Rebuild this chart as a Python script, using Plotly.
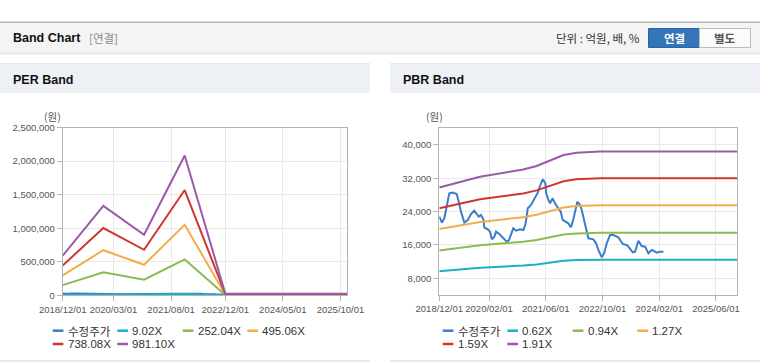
import plotly.graph_objects as go

W, H = 760, 364


def X(p):
    return p / W


def Y(p):
    return 1 - p / H


# ---------------- data ----------------
price_name = "수정주가"
price_dates = [
    "2018-12-01", "2018-12-24", "2019-01-13", "2019-02-03", "2019-02-25", "2019-03-26",
    "2019-04-29", "2019-05-17", "2019-06-05", "2019-07-04", "2019-08-02", "2019-08-30",
    "2019-09-27", "2019-10-18", "2019-11-04", "2019-11-24", "2019-12-14", "2019-12-22",
    "2020-01-20", "2020-02-09", "2020-02-26", "2020-03-17", "2020-04-01", "2020-04-29",
    "2020-05-22", "2020-06-26", "2020-07-19", "2020-08-07", "2020-08-27", "2020-09-19",
    "2020-10-24", "2020-11-21", "2020-12-08", "2020-12-20", "2020-12-29", "2021-01-26",
    "2021-02-23", "2021-03-25", "2021-04-13", "2021-05-07", "2021-05-29", "2021-06-04",
    "2021-06-24", "2021-07-08", "2021-07-31", "2021-08-20", "2021-09-17", "2021-10-08",
    "2021-10-25", "2021-11-23", "2021-12-12", "2022-01-02", "2022-01-19", "2022-02-08",
    "2022-02-28", "2022-03-23", "2022-04-06", "2022-04-26", "2022-05-19", "2022-06-02",
    "2022-07-15", "2022-08-07", "2022-08-27", "2022-09-25", "2022-10-15", "2022-11-07",
    "2022-12-05", "2023-01-03", "2023-02-14", "2023-03-24", "2023-05-03", "2023-06-18",
    "2023-07-08", "2023-08-05", "2023-09-03", "2023-10-02", "2023-10-30", "2023-11-28",
    "2023-12-12", "2024-01-10", "2024-02-07", "2024-03-07",
]
price_values = [
    22800, 21360, 22400, 25200, 28400, 28560,
    28240, 26400, 24000, 21360, 22000, 23440,
    24240, 23440, 22800, 23200, 22160, 20240,
    19760, 19200, 17360, 18000, 19200, 18640,
    18000, 16960, 17040, 18400, 20000, 19440,
    19760, 19600, 20800, 22960, 24800, 25600,
    26960, 28560, 30160, 31760, 30800, 28600,
    26800, 26000, 27200, 26000, 24800, 24000,
    22000, 21600, 21200, 20240, 21600, 24000,
    26400, 25600, 24400, 22000, 19600, 17600,
    17360, 16400, 14800, 13050, 14000, 16400,
    18400, 18400, 17850, 16240, 15900, 14240,
    14400, 17040, 15760, 15600, 14000, 14800,
    14640, 14160, 14400, 14400,
]

# PER band
per_names = ["9.02X", "252.04X", "495.06X", "738.08X", "981.10X"]
per_dates = ["2018-12-01", "2019-12-01", "2020-12-01", "2021-12-01", "2022-12-01", "2025-12-01"]
per_902 = [5400, 12200, 8300, 19200, 230, 230]
per_25204 = [152000, 342000, 232000, 535000, 6300, 6300]
per_49506 = [298000, 672000, 455000, 1051000, 12400, 12400]
per_73808 = [444000, 1002000, 678000, 1568000, 18500, 18500]
per_98110 = [591000, 1332000, 902000, 2084000, 24500, 24500]

# PBR band
pbr_names = ["0.62X", "0.94X", "1.27X", "1.59X", "1.91X"]
pbr_dates = ["2018-12-01", "2019-11-15", "2020-11-20", "2021-03-15", "2021-11-01",
             "2022-02-20", "2022-09-10", "2025-12-01"]
pbr_062 = [9672, 10515, 11067, 11346, 12202, 12381, 12474, 12474]
pbr_094 = [14664, 15942, 16779, 17202, 18499, 18772, 18913, 18913]
pbr_127 = [19812, 21539, 22670, 23241, 24994, 25362, 25552, 25552]
pbr_159 = [24804, 26966, 28382, 29097, 31291, 31752, 31991, 31991]
pbr_191 = [29796, 32394, 34094, 34953, 37589, 38143, 38429, 38429]

per_xticks = ["2018-12-01", "2020-03-01", "2021-08-01", "2022-12-01", "2024-05-01", "2025-10-01"]
pbr_xticks = ["2018-12-01", "2020-02-01", "2021-06-01", "2022-10-01", "2024-02-01", "2025-06-01"]
per_yticks = [0, 500000, 1000000, 1500000, 2000000, 2500000]
pbr_yticks = [8000, 16000, 24000, 32000, 40000]

# ---------------- style ----------------
colors = ["#3b7ccb", "#1bb0c7", "#8cba52", "#f2ad4b", "#d1352e", "#9a5aa6"]
FONT = "Liberation Sans, Arial, Noto Sans CJK KR, sans-serif"
KFONT = "Noto Sans CJK KR, Liberation Sans, sans-serif"

fig = go.Figure()

per_series = [per_902, per_25204, per_49506, per_73808, per_98110]
pbr_series = [pbr_062, pbr_094, pbr_127, pbr_159, pbr_191]

fig.add_trace(go.Scatter(x=price_dates, y=price_values, mode="lines", name=price_name,
                         line=dict(color=colors[0], width=2), xaxis="x", yaxis="y"))
for i, (nm, vals) in enumerate(zip(per_names, per_series)):
    fig.add_trace(go.Scatter(x=per_dates, y=vals, mode="lines", name=nm,
                             line=dict(color=colors[i + 1], width=2), xaxis="x", yaxis="y"))

fig.add_trace(go.Scatter(x=price_dates, y=price_values, mode="lines", name=price_name,
                         line=dict(color=colors[0], width=2), xaxis="x2", yaxis="y2"))
for i, (nm, vals) in enumerate(zip(pbr_names, pbr_series)):
    fig.add_trace(go.Scatter(x=pbr_dates, y=vals, mode="lines", name=nm,
                             line=dict(color=colors[i + 1], width=2), xaxis="x2", yaxis="y2"))

axis_common = dict(
    showline=True, linecolor="#b4b4b4", linewidth=1, mirror=True,
    showgrid=True, gridcolor="#e9e9e9", gridwidth=1,
    ticks="outside", ticklen=5, tickcolor="#b4b4b4",
    tickfont=dict(family=FONT, size=9.5, color="#555"),
    zeroline=False, fixedrange=True, automargin=False, tickangle=0,
)

fig.update_layout(
    template="none",
    width=W, height=H,
    margin=dict(l=0, r=0, t=0, b=0, pad=0, autoexpand=False),
    paper_bgcolor="white", plot_bgcolor="white",
    showlegend=False,
    xaxis=dict(domain=[X(62.7), X(347.3)], anchor="y", type="date",
               range=["2018-12-01", "2025-12-01"], tickvals=per_xticks,
               tickformat="%Y/%m/%d", **axis_common),
    yaxis=dict(domain=[Y(295.3), Y(127.5)], anchor="x", range=[0, 2500000],
               tickvals=per_yticks, tickformat=",d", **axis_common),
    xaxis2=dict(domain=[X(439.3), X(737.3)], anchor="y2", type="date",
                range=["2018-12-01", "2025-12-01"], tickvals=pbr_xticks,
                tickformat="%Y/%m/%d", **axis_common),
    yaxis2=dict(domain=[Y(295.0), Y(128.3)], anchor="x2", range=[4000, 44000],
                tickvals=pbr_yticks, tickformat=",d", **axis_common),
)

shapes = []


def rect(x0, y0, x1, y1, fill, line=None, lw=0, layer="below"):
    shapes.append(dict(type="rect", xref="paper", yref="paper",
                       x0=X(x0), x1=X(x1), y0=Y(y1), y1=Y(y0),
                       fillcolor=fill, line=dict(color=line or fill, width=lw),
                       layer=layer))


# header
rect(0, 21.5, 760, 23, "#b8b8b8")
rect(0, 23, 760, 52.5, "#f4f4f4")
rect(0, 52.5, 760, 53.5, "#d6d6d6")
rect(0, 53.5, 760, 55, "#ededed")
rect(648.5, 28.5, 699.5, 47.5, "#3674ba", "#2c63a4", 1, "above")
rect(699.5, 28.5, 750.5, 47.5, "#fbfbfb", "#bcbcbc", 1, "above")

# panels
for px0, px1 in [(0, 370), (390, 760)]:
    rect(px0, 63.5, px1, 64.5, "#d4d4d4")
    rect(px0, 64.5, px1, 93, "#edf1f6")
    rect(px0, 360.5, px1, 361.5, "#d4d4d4")

annotations = []


def text(x, y, s, size=12, color="#333", bold=False, anchor="left", family=FONT):
    annotations.append(dict(xref="paper", yref="paper", x=X(x), y=Y(y),
                            text=("<b>%s</b>" % s) if bold else s,
                            showarrow=False, xanchor=anchor, yanchor="middle",
                            font=dict(family=family, size=size, color=color)))


text(11, 38.5, "Band Chart", 12.5, "#111", True)
text(87, 38.5, "[연결]", 11.5, "#8a8a8a", family=KFONT)
text(642, 38.5, "단위 : 억원, 배, %", 11.5, "#333", anchor="right", family=KFONT)
text(674, 38, "연결", 11.5, "white", True, "center", KFONT)
text(725, 38, "별도", 11.5, "#555", True, "center", KFONT)

text(11, 80, "PER Band", 12.5, "#111", True)
text(401, 80, "PBR Band", 12.5, "#111", True)

text(53, 116.5, "(원)", 10.5, "#555", anchor="center", family=KFONT)
text(434, 116.5, "(원)", 10.5, "#555", anchor="center", family=KFONT)

# custom legends
legend_cols = [52.7, 117.3, 182.7, 247.3]
legend_rows = [330.7, 344.0]
for base, names in [(0, [price_name] + per_names), (390, [price_name] + pbr_names)]:
    for k, nm in enumerate(names):
        cx = base + legend_cols[k % 4]
        cy = legend_rows[k // 4]
        shapes.append(dict(type="line", xref="paper", yref="paper",
                           x0=X(cx), x1=X(cx + 10.7), y0=Y(cy), y1=Y(cy),
                           line=dict(color=colors[k], width=2.5)))
        text(cx + 13, cy, nm, 11.5, "#333", family=KFONT if k == 0 else FONT)

fig.update_layout(shapes=shapes, annotations=annotations)

fig.write_html("out.html",
               config={"displayModeBar": False, "staticPlot": True},
               post_script="document.body.style.margin='0';document.body.style.overflow='hidden';")
